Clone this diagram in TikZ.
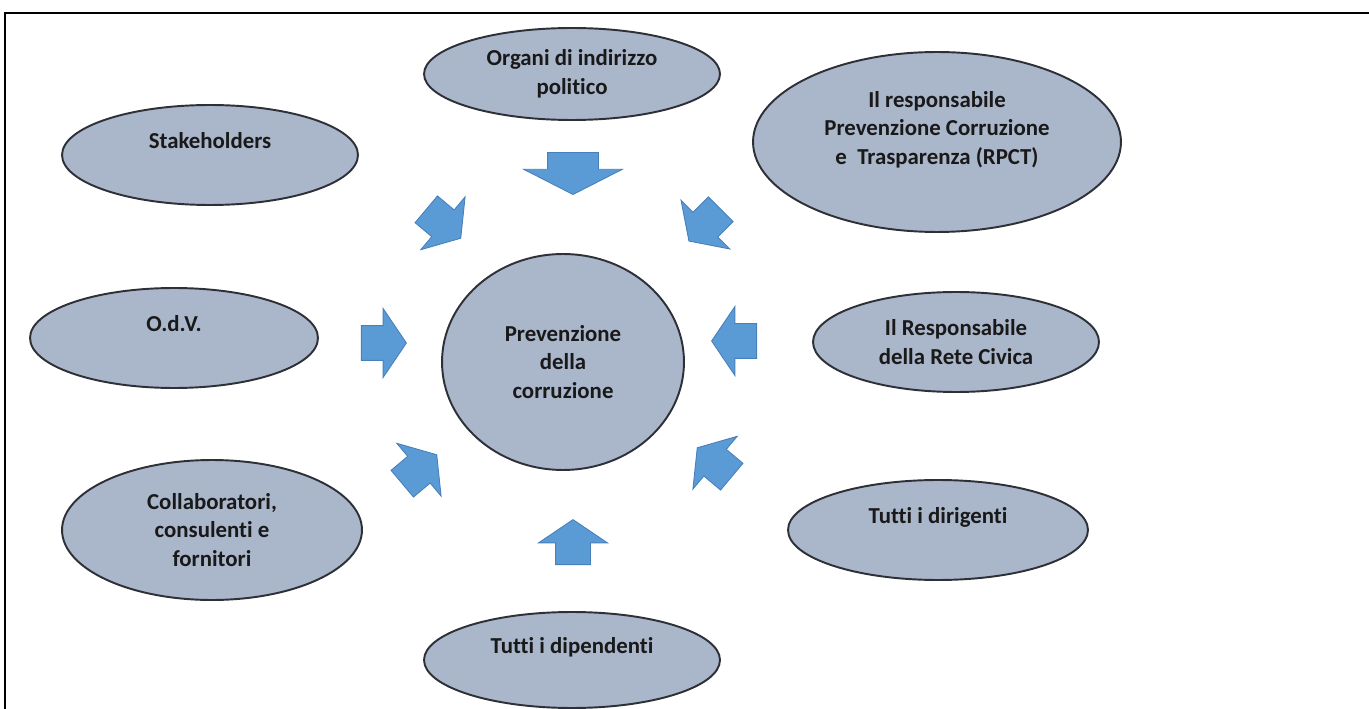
\documentclass[tikz,border=0pt]{standalone}
\usepackage{fontspec}
\setmainfont{Carlito}[Ligatures=NoCommon]
\usetikzlibrary{shapes.geometric,shapes.arrows}
\definecolor{ovalfill}{RGB}{170,182,202}
\definecolor{ovalline}{RGB}{45,48,55}
\definecolor{arrowfill}{RGB}{91,155,213}
\definecolor{arrowline}{RGB}{72,128,186}
\tikzset{
  oval/.style={ellipse, draw=ovalline, fill=ovalfill, line width=1.1pt, inner sep=0pt, align=center, text=black!90, font=\bfseries\fontsize{13}{16.2}\selectfont},
  blockarrow/.style={single arrow, draw=arrowline, fill=arrowfill, line width=0.5pt, inner xsep=0pt, outer sep=0pt, minimum height=0.9cm, inner ysep=0.34cm, single arrow head extend=0.34cm, single arrow tip angle=112},
  widearrow/.style={blockarrow, minimum height=0.84cm, inner ysep=0.5cm, single arrow head extend=0.48cm, single arrow tip angle=126},
  frame/.style={line width=1.4pt}
}

\begin{document}
\begin{tikzpicture}[x=0.02cm, y=-0.02cm]
  \useasboundingbox (0,0) rectangle (1369,709);
  \draw[frame] (5,709) -- (5,13) -- (1369,13);

  % centre
  \node[oval, minimum width=4.84cm, minimum height=4.32cm] (prev) at (563,362) {Prevenzione\\della\\corruzione};

  % actors
  \node[oval, minimum width=5.92cm, minimum height=1.84cm] (organi) at (572,74) {Organi di indirizzo\\politico};
  \node[oval, minimum width=7.36cm, minimum height=3.6cm] (rpct) at (937,142) {Il responsabile\\Prevenzione Corruzione\\e~ Trasparenza (RPCT)\\\mbox{}};
  \node[oval, minimum width=5.92cm, minimum height=2.0cm] (stake) at (210,155) {Stakeholders\\\mbox{}};
  \node[oval, minimum width=5.76cm, minimum height=2.0cm] (odv) at (174,338) {O.d.V.\\\mbox{}};
  \node[oval, minimum width=5.72cm, minimum height=2.0cm] (rete) at (956,342) {Il Responsabile\\della Rete Civica};
  \node[oval, minimum width=6.0cm, minimum height=2.8cm] (collab) at (212,530) {Collaboratori,\\consulenti e\\fornitori};
  \node[oval, minimum width=6.0cm, minimum height=2.0cm] (dirig) at (938,530) {Tutti i dirigenti\\\mbox{}};
  \node[oval, minimum width=5.92cm, minimum height=1.92cm] (dipend) at (572,660) {Tutti i dipendenti\\\mbox{}};

  % block arrows towards the centre
  \node[widearrow, rotate=-90] (a_organi) at (573,167) {};
  \node[blockarrow, rotate=-40] (a_stake) at (439,220) {};
  \node[blockarrow, rotate=-135] (a_rpct) at (709,221) {};
  \node[blockarrow, rotate=0] (a_odv) at (378,343) {};
  \node[blockarrow, rotate=180] (a_rete) at (740,341) {};
  \node[blockarrow, rotate=40] (a_collab) at (415,473) {};
  \node[blockarrow, rotate=140] (a_dirig) at (719,466) {};
  \node[blockarrow, rotate=90] (a_dipend) at (573,548) {};
\end{tikzpicture}
\end{document}
